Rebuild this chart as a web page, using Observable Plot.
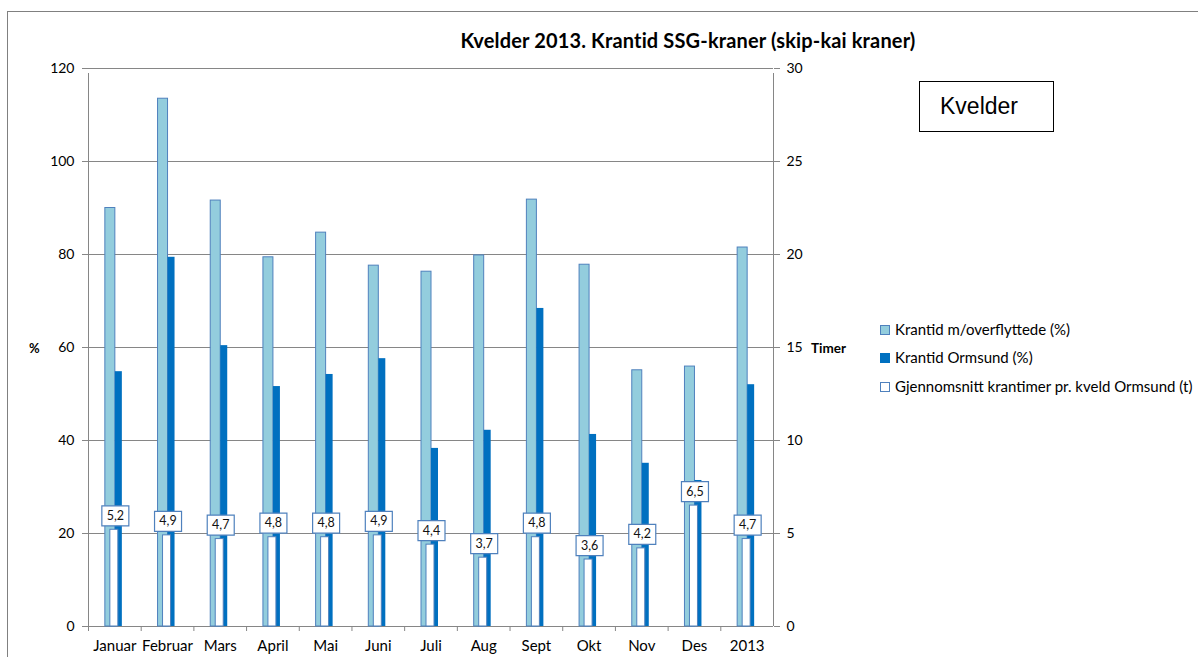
<!DOCTYPE html>
<html><head><meta charset="utf-8">
<script src="https://cdn.jsdelivr.net/npm/d3@7"></script>
<script src="https://cdn.jsdelivr.net/npm/@observablehq/plot@0.6"></script>
<style>
body{margin:0;background:#fff;}
#wrap{position:relative;width:1198px;height:657px;overflow:hidden;font-family:Lato,"Open Sans",sans-serif;color:#000;}
#wrap svg{position:absolute;left:0;top:0;}
.frame{position:absolute;left:7px;top:11px;width:1300px;height:800px;border-top:1px solid #808080;border-left:1px solid #808080;}
.title{position:absolute;left:338px;width:700px;top:28px;height:24px;line-height:24px;text-align:center;font-weight:bold;font-size:20px;letter-spacing:0.15px;}
.axlab{position:absolute;font-weight:bold;font-size:13px;line-height:16px;}
.legend{position:absolute;left:880px;font-size:15px;}
.legend div{position:absolute;white-space:nowrap;height:18px;line-height:18px;}
.legend span.m{display:inline-block;width:8px;height:8px;margin-right:5px;vertical-align:0px;}
.kbox{position:absolute;left:919px;top:81px;width:133px;height:49px;border:1.5px solid #000;font-family:"Liberation Sans",Arial,sans-serif;font-size:23px;line-height:49px;}
.kbox span{position:absolute;left:20px;}
</style></head><body><div id="wrap"><div class="frame"></div></div>
<script>
const categories = ["Januar","Februar","Mars","April","Mai","Juni","Juli","Aug","Sept","Okt","Nov","Des","2013"];
const krantidOverflyttede = [90,113.5,91.6,79.4,84.7,77.6,76.3,79.8,91.8,77.8,55.1,55.9,81.5];
const krantidOrmsund = [54.8,79.4,60.4,51.6,54.2,57.6,38.3,42.2,68.4,41.3,35.1,31.4,52.0];
const krantimerKveld = [5.2,4.9,4.7,4.8,4.8,4.9,4.4,3.7,4.8,3.6,4.2,6.5,4.7];
const leftTicks = [0,20,40,60,80,100,120];
const rightTicks = [0,5,10,15,20,25,30];
const seriesNames = ["Krantid m/overflyttede (%)","Krantid Ormsund (%)","Gjennomsnitt krantimer pr. kveld Ormsund (t)"];
const titleText = "Kvelder 2013. Krantid SSG-kraner (skip-kai kraner)";

const W=1198,H=657,mL=88,mR=425,mT=68,mB=31;
const bw=(W-mL-mR)/categories.length, half=bw/2;
const ratio = leftTicks[leftTicks.length-1]/rightTicks[rightTicks.length-1];
const rows = categories.map((c,i)=>({cat:c,a:krantidOverflyttede[i],b:krantidOrmsund[i],h:krantimerKveld[i]}));
const fmt = d => d.toFixed(1).replace(".", ",");
const boxSym = {draw(ctx){ctx.moveTo(-13.5,-10);ctx.lineTo(13.5,-10);ctx.lineTo(13.5,10);ctx.lineTo(-13.5,10);ctx.closePath();}};
const gray="#868686";

const chart = Plot.plot({
  width:W,height:H,marginLeft:mL,marginRight:mR,marginTop:mT,marginBottom:mB,
  x:{type:"band",domain:categories,padding:0,round:false},
  y:{domain:[leftTicks[0],leftTicks[leftTicks.length-1]]},
  style:{fontFamily:"Lato, 'Open Sans', sans-serif",background:"transparent",color:"#000"},
  marks:[
    Plot.gridY(leftTicks,{stroke:gray,strokeOpacity:1}),
    Plot.ruleX(categories,{x:d=>d,dx:-half,y1:0,y2:0,insetBottom:-5,stroke:gray}),
    Plot.ruleX([categories[0]],{x:d=>d,dx:-half,y1:0,y2:leftTicks[leftTicks.length-1],insetBottom:-5,stroke:gray}),
    Plot.ruleX([categories[categories.length-1]],{x:d=>d,dx:half,y1:0,y2:leftTicks[leftTicks.length-1],insetBottom:-5,stroke:gray}),
    Plot.axisY({anchor:"left",ticks:leftTicks,tickSize:6,tickPadding:8,fontSize:14,label:null,stroke:gray}),
    Plot.axisY({anchor:"right",ticks:rightTicks.map(t=>t*ratio),tickFormat:d=>d/ratio,tickSize:6,tickPadding:7,fontSize:14,label:null,stroke:gray}),
    Plot.axisX({tickSize:0,tickPadding:14,fontSize:15,label:null}),
    Plot.barY(rows,{x:"cat",y:"a",fill:"#93cddd",stroke:"#4f81bd",strokeWidth:1,insetLeft:half-9.5,insetRight:half-0.5}),
    Plot.barY(rows,{x:"cat",y:"b",fill:"#0070c0",insetLeft:half+0.5,insetRight:half-7.5}),
    Plot.barY(rows,{x:"cat",y:d=>d.h*ratio,fill:"#ffffff",stroke:"#4f81bd",strokeWidth:1,insetLeft:half-4.5,insetRight:half-3.5}),
    Plot.dot(rows,{x:"cat",y:d=>d.h*ratio,dy:-14,dx:0.5,symbol:boxSym,fill:"#fff",stroke:"#4f81bd",strokeWidth:1.2}),
    Plot.text(rows,{x:"cat",y:d=>d.h*ratio,dy:-14,dx:0.5,text:d=>fmt(d.h),fontSize:12.5,fill:"#111"})
  ]
});
const wrap=document.getElementById("wrap");
wrap.appendChild(chart);

function addDiv(cls,html,style){const d=document.createElement("div");d.className=cls;d.innerHTML=html;Object.assign(d.style,style||{});wrap.appendChild(d);return d;}
addDiv("title",titleText);
addDiv("axlab","%",{left:"29px",top:"340px"});
addDiv("axlab","Timer",{left:"811px",top:"340px",fontSize:"13.5px"});
const lg=addDiv("legend","",{top:"0px"});
const marks=[
  "background:#93cddd;border:1px solid #4f81bd;",
  "background:#0070c0;border:1px solid #0070c0;",
  "background:#fff;border:1px solid #4f81bd;"
];
const tops=[320,348,377];
seriesNames.forEach((n,i)=>{const d=document.createElement("div");d.style.top=tops[i]+"px";d.innerHTML=`<span class="m" style="${marks[i]}"></span>${n}`;lg.appendChild(d);});
addDiv("kbox","<span>Kvelder</span>");
</script></body></html>
